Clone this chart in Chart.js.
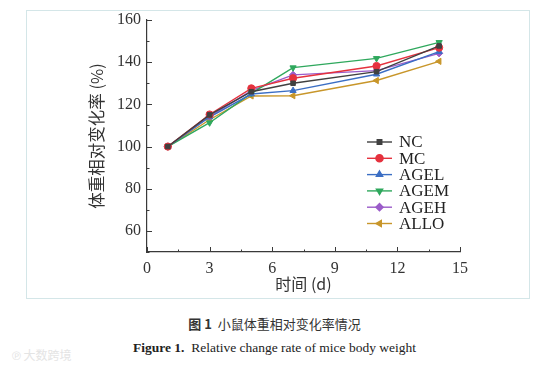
<!DOCTYPE html>
<html>
<head>
<meta charset="utf-8">
<script src="https://cdn.jsdelivr.net/npm/chart.js@4/dist/chart.umd.min.js"></script>
<style>
  html, body { margin: 0; padding: 0; background: #fff; }
  body { width: 549px; height: 371px; position: relative; overflow: hidden; }
  #frame { position: absolute; left: 26px; top: 10px; width: 502px; height: 287px; border: 1px solid #d4e6e8; }
  #wrap { position: absolute; left: 0; top: 0; width: 549px; height: 300px; }
  .cap { position: absolute; left: 0; width: 549px; text-align: center; color: #333; }
  #cap1 { top: 314px; font: 13px "Noto Sans CJK SC", sans-serif; }
  #cap2 { top: 340px; font: 13.5px "Liberation Serif", serif; color: #222; }
  #wm { position: absolute; left: 12px; top: 346px; font: 12px "Noto Sans CJK SC", sans-serif; color: #e4e4e4; }
</style>
</head>
<body>
<div id="frame"></div>
<div id="wrap"><canvas id="c" width="549" height="300"></canvas></div>
<div class="cap" id="cap1"><b>图 1</b>&nbsp; 小鼠体重相对变化率情况</div>
<div class="cap" id="cap2"><b>Figure 1.</b>&nbsp; Relative change rate of mice body weight</div>
<div id="wm">℗ 大数跨境</div>
<script>
// days of measurement
const days = [1, 3, 5, 7, 11, 14];

// relative body weight change (%) per group
const NC   = [100, 115.0, 126.0, 130.0, 135.5, 147.7];
const MC   = [100, 115.2, 127.6, 132.4, 138.2, 146.9];
const AGEL = [100, 114.0, 124.9, 126.5, 134.3, 145.0];
const AGEM = [100, 111.3, 125.2, 137.4, 141.8, 149.4];
const AGEH = [100, 114.2, 126.5, 134.0, 136.0, 144.2];
const ALLO = [100, 112.7, 124.0, 124.1, 131.3, 140.4];

const xTicks = [0, 3, 6, 9, 12, 15];
const yTicks = [60, 80, 100, 120, 140, 160];

const serif = "'Liberation Serif', 'Times New Roman', serif";
const axisColor = '#3a3a3a';

function series(label, values, color, pointStyle, rotation) {
    return {
        label,
        data: days.map((d, i) => ({ x: d, y: values[i] })),
        borderColor: color,
        backgroundColor: color,
        borderWidth: 1.4,
        pointStyle,
        pointRotation: rotation || 0,
        pointRadius: pointStyle === 'rect' ? 3.2 : 3.6,
        pointBorderWidth: 1
    };
}

const datasets = [
    series('NC', NC, '#404040', 'rect'),
    series('MC', MC, '#e5323e', 'circle'),
    series('AGEL', AGEL, '#3b6ec4', 'triangle'),
    series('AGEM', AGEM, '#2fa85d', 'triangle', 180),
    series('AGEH', AGEH, '#9b5cc9', 'rectRot'),
    series('ALLO', ALLO, '#c8962a', 'triangle', 270)
];

// inward major/minor ticks, axis titles and the legend
const decorations = {
    id: 'decorations',
    afterDraw(chart) {
        const ctx = chart.ctx;
        const xs = chart.scales.x, ys = chart.scales.y;
        const area = chart.chartArea;
        ctx.save();
        ctx.strokeStyle = axisColor;
        ctx.lineWidth = 1;

        // x ticks (pointing up)
        xTicks.forEach((v, i) => {
            const px = Math.round(xs.getPixelForValue(v)) + 0.5;
            ctx.beginPath();
            ctx.moveTo(px, area.bottom);
            ctx.lineTo(px, area.bottom - 5);
            ctx.stroke();
            if (i < xTicks.length - 1) {
                const mx = Math.round(xs.getPixelForValue(v + 1.5)) + 0.5;
                ctx.beginPath();
                ctx.moveTo(mx, area.bottom);
                ctx.lineTo(mx, area.bottom - 2.5);
                ctx.stroke();
            }
        });
        // y ticks (pointing right)
        yTicks.forEach((v) => {
            const py = Math.round(ys.getPixelForValue(v)) + 0.5;
            ctx.beginPath();
            ctx.moveTo(area.left, py);
            ctx.lineTo(area.left + 5, py);
            ctx.stroke();
            const my = Math.round(ys.getPixelForValue(v - 10)) + 0.5;
            ctx.beginPath();
            ctx.moveTo(area.left, my);
            ctx.lineTo(area.left + 2.5, my);
            ctx.stroke();
        });

        // axis titles
        ctx.fillStyle = '#333';
        ctx.textAlign = 'center';
        ctx.textBaseline = 'middle';
        ctx.font = "16px 'Noto Sans CJK SC', sans-serif";
        ctx.fillText('时间 (d)', (area.left + area.right) / 2, 284);
        ctx.save();
        ctx.translate(97, (area.top + area.bottom) / 2);
        ctx.rotate(-Math.PI / 2);
        ctx.font = "16.5px 'Noto Sans CJK SC', sans-serif";
        ctx.fillText('体重相对变化率 (%)', 0, 0);
        ctx.restore();

        // legend: line segment with marker, then label
        const lx0 = 367, lx1 = 392, tx = 399, ly0 = 142, step = 16.3;
        ctx.textAlign = 'left';
        ctx.font = '17px ' + serif;
        chart.data.datasets.forEach((ds, i) => {
            const y = ly0 + i * step;
            ctx.strokeStyle = ds.borderColor;
            ctx.lineWidth = 1.4;
            ctx.beginPath();
            ctx.moveTo(lx0, y);
            ctx.lineTo(lx1, y);
            ctx.stroke();
            ctx.fillStyle = ds.backgroundColor;
            Chart.helpers.drawPoint(ctx, {
                pointStyle: ds.pointStyle,
                rotation: ds.pointRotation,
                radius: ds.pointRadius,
                borderWidth: 1
            }, (lx0 + lx1) / 2, y);
            ctx.fillStyle = '#222';
            ctx.fillText(ds.label, tx, y + 1);
        });
        ctx.restore();
    }
};

new Chart(document.getElementById('c'), {
    type: 'line',
    data: { datasets },
    options: {
        responsive: false,
        animation: false,
        layout: { padding: { left: 0, right: 89, top: 20, bottom: 0 } },
        plugins: { legend: { display: false }, tooltip: { enabled: false } },
        scales: {
            x: {
                type: 'linear',
                min: 0,
                max: 15,
                afterBuildTicks: (s) => { s.ticks = xTicks.map(v => ({ value: v })); },
                afterFit: (s) => { s.height = 48; },
                grid: { display: false, drawTicks: false },
                border: { display: true, color: axisColor, width: 1.2 },
                ticks: { color: '#333', padding: 7, font: { family: serif, size: 16 } }
            },
            y: {
                min: 50,
                max: 160,
                afterBuildTicks: (s) => { s.ticks = yTicks.map(v => ({ value: v })); },
                afterFit: (s) => { s.width = 147; },
                grid: { display: false, drawTicks: false },
                border: { display: true, color: axisColor, width: 1.2 },
                ticks: { color: '#333', padding: 6, font: { family: serif, size: 16 } }
            }
        }
    },
    plugins: [decorations]
});
</script>
</body>
</html>
